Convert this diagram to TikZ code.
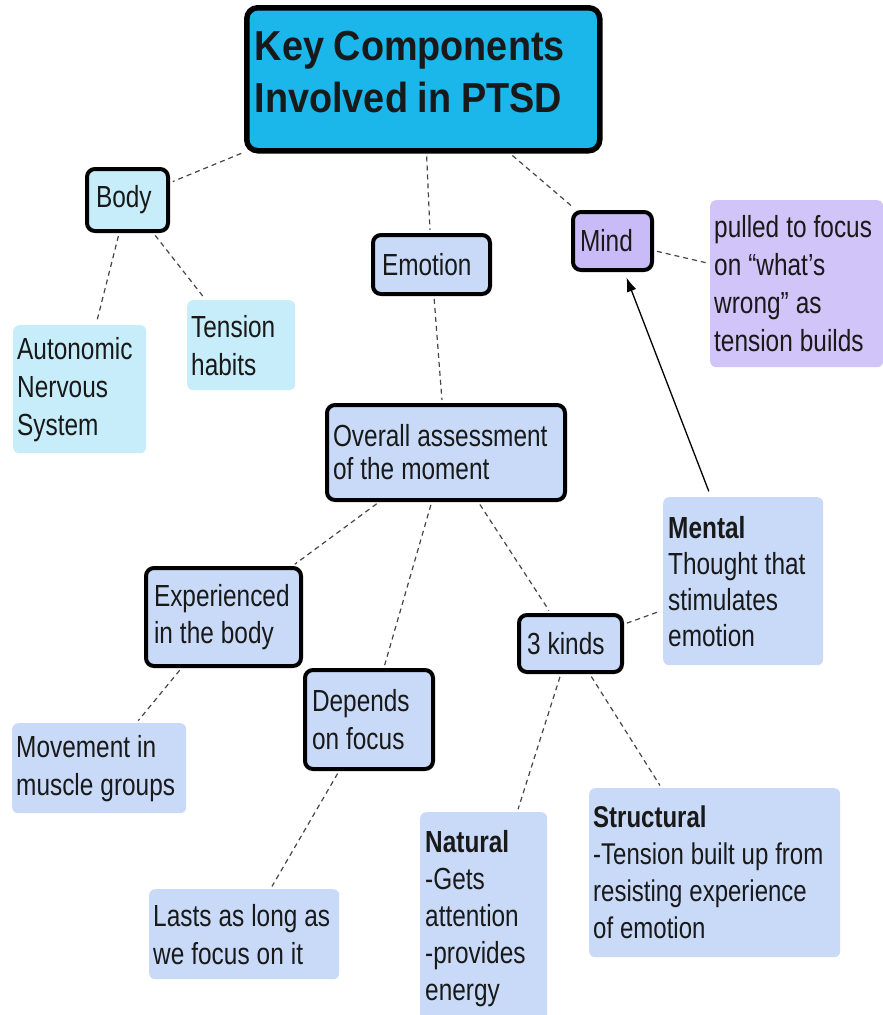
\documentclass[tikz,border=0pt]{standalone}
\usepackage{fontspec}
\setmainfont{Liberation Sans}[FakeStretch=0.8]
\newfontfamily\titlefont{Liberation Sans}[FakeStretch=0.9]
\usetikzlibrary{arrows.meta}
\definecolor{titleblue}{RGB}{27,182,234}
\definecolor{cyanlt}{RGB}{199,237,250}
\definecolor{bluelt}{RGB}{201,218,248}
\definecolor{lav}{RGB}{201,187,247}
\definecolor{lavlt}{RGB}{208,196,248}
\definecolor{edgegray}{RGB}{70,70,70}
\tikzset{
  every node/.style={anchor=north west, align=left, inner ysep=0pt,
    font=\fontsize{30.5}{38}\selectfont, text=black!90,
    execute at begin node={\spaceskip=0.23em\relax}},
  keybox/.style={draw=black, line width=4pt, rounded corners=8pt},
  leafbox/.style={rounded corners=6pt},
  link/.style={draw=edgegray, line width=1.2pt, dash pattern=on 5pt off 4pt,
    shorten <=3pt, shorten >=3pt},
  arrowlink/.style={draw=black, line width=1.3pt, -{Latex[length=14pt,width=10pt]},
    shorten <=6pt, shorten >=6pt}
}
\begin{document}
\begin{tikzpicture}[x=1pt,y=-1pt]
\useasboundingbox (0,0) rectangle (883,1015);
\fill[white] (0,0) rectangle (883,1015);

% title
\node[keybox, line width=5.5pt, rounded corners=11pt, fill=titleblue,
  minimum height=143pt, inner xsep=8pt, text width=337pt,
  font=\titlefont\bfseries\fontsize{42}{52}\selectfont] (title) at (244,5)
  {Key Components\\Involved in PTSD\par\vspace{14pt}};

% body branch
\node[keybox, fill=cyanlt, minimum height=62pt, inner xsep=9pt, text width=63pt] (body) at (85,167) {Body};
\node[leafbox, fill=cyanlt, minimum height=128pt, inner xsep=4pt, text width=125pt] (ans) at (13,325) {Autonomic\\Nervous\\System};
\node[leafbox, fill=cyanlt, minimum height=90pt, inner xsep=4pt, text width=100pt] (tension) at (187,300) {Tension\\habits};

% emotion branch
\node[keybox, fill=bluelt, minimum height=59pt, inner xsep=9pt, text width=99pt] (emotion) at (371,233) {Emotion};
\node[keybox, fill=bluelt, minimum height=95pt, inner xsep=6pt, text width=226pt,
  font=\fontsize{30.5}{33}\selectfont] (overall) at (325,403) {Overall assessment\\of the moment};
\node[keybox, fill=bluelt, minimum height=98pt, inner xsep=8pt, text width=139pt,
  font=\fontsize{30.5}{37}\selectfont] (exper) at (144,566) {Experienced\\in the body};
\node[keybox, fill=bluelt, minimum height=99pt, inner xsep=7pt, text width=114pt] (depends) at (303,668) {Depends\\on focus};
\node[keybox, fill=bluelt, minimum height=57pt, inner xsep=8pt, text width=87pt] (kinds) at (517,613) {3 kinds};
\node[leafbox, fill=bluelt, minimum height=90pt, inner xsep=4pt, text width=166pt] (movement) at (12,723) {Movement in\\muscle groups};
\node[leafbox, fill=bluelt, minimum height=90pt, inner xsep=4pt, text width=182pt] (lasts) at (149,889) {Lasts as long as\\we focus on it};
\node[leafbox, fill=bluelt, minimum height=168pt, inner xsep=5pt, text width=150pt,
  font=\fontsize{30.5}{36}\selectfont] (mental) at (663,497) {\textbf{Mental}\\Thought that\\stimulates\\emotion};
\node[leafbox, fill=bluelt, minimum height=212pt, inner xsep=5pt, text width=117pt,
  font=\fontsize{30.5}{37}\selectfont] (natural) at (420,812) {\textbf{Natural}\\-Gets\\attention\\-provides\\energy};
\node[leafbox, fill=bluelt, minimum height=169pt, inner xsep=4pt, text width=243pt,
  font=\fontsize{30}{37}\selectfont] (structural) at (589,788) {\textbf{Structural}\\-Tension built up from\\resisting experience\\of emotion};

% mind branch
\node[keybox, fill=lav, minimum height=58pt, inner xsep=7pt, text width=65pt] (mind) at (571,210) {Mind};
\node[leafbox, fill=lavlt, minimum height=167pt, inner xsep=4pt, text width=165pt] (pulled) at (710,200) {pulled to focus\\on “what’s\\wrong” as\\tension builds};

% connectors
\draw[link] (title) -- (body);
\draw[link] (title) -- (emotion);
\draw[link] (title) -- (mind);
\draw[link] (body) -- (ans);
\draw[link] (body) -- (tension);
\draw[link] (emotion) -- (overall);
\draw[link] (mind) -- (pulled);
\draw[link] (overall) -- (exper);
\draw[link] (overall) -- (depends);
\draw[link] (overall) -- (kinds);
\draw[link] (kinds) -- (mental);
\draw[link] (exper) -- (movement);
\draw[link] (depends) -- (lasts);
\draw[link] (kinds) -- (natural);
\draw[link] (kinds) -- (structural);
\draw[arrowlink] (mental) -- (mind);
\end{tikzpicture}
\end{document}
